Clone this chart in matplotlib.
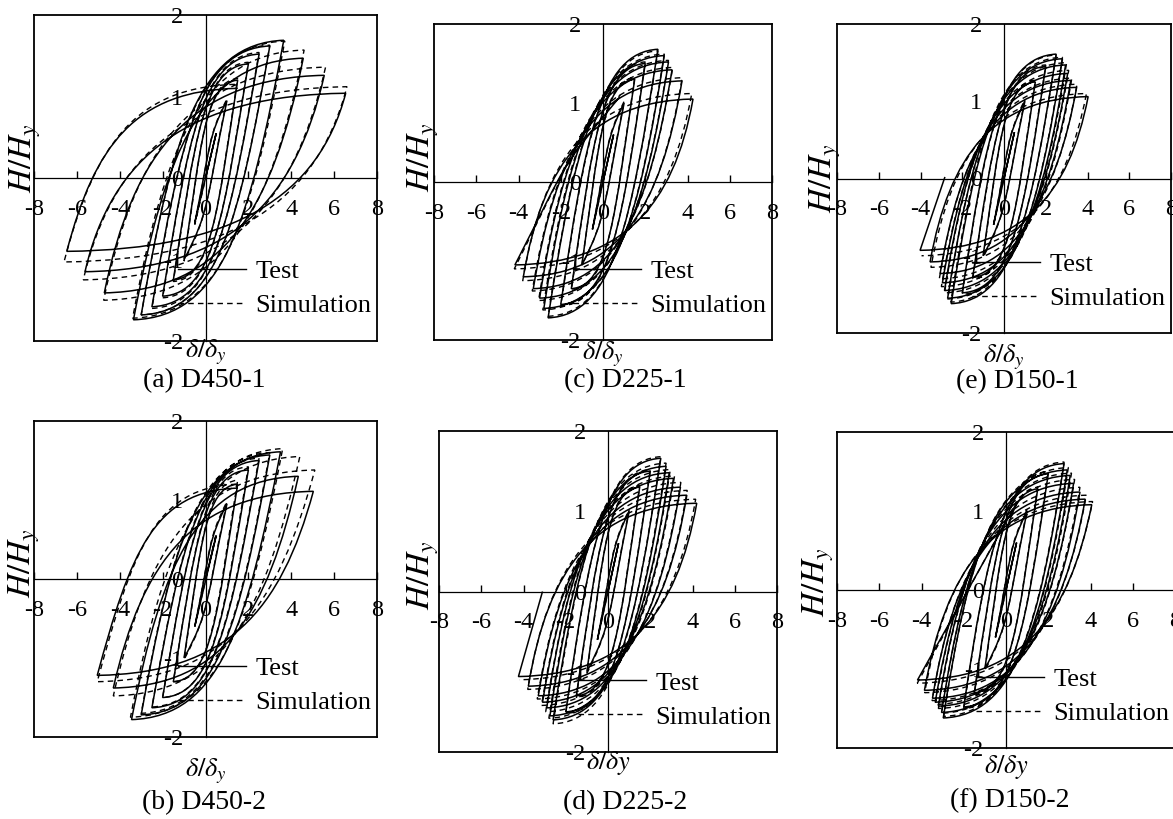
import matplotlib
matplotlib.use('Agg')
import matplotlib.pyplot as plt
from matplotlib.path import Path
from matplotlib.patches import PathPatch
from matplotlib.lines import Line2D

plt.rcParams['font.family'] = ['Liberation Serif', 'DejaVu Serif']
plt.rcParams['mathtext.fontset'] = 'stix'
plt.rcParams['axes.unicode_minus'] = False

# ---- data: peak points of each cycle (delta/delta_y, H/H_y)
# positive peaks, negative peaks, initial unloading slope of the cycle, last (partial) point

# (a) D450-1
a_test_pos = [(0.5, 0.55), (1.0, 0.95), (1.5, 1.2), (2.0, 1.4), (2.5, 1.52), (3.0, 1.62),
              (3.65, 1.69), (4.56, 1.47), (5.54, 1.26), (6.54, 1.04)]
a_test_neg = [(-0.5, -0.55), (-1.0, -1.0), (-1.5, -1.25), (-2.0, -1.45), (-2.5, -1.58), (-3.0, -1.68),
              (-3.36, -1.74), (-4.72, -1.41), (-5.62, -1.15), (-6.47, -0.9)]
a_sim_pos = [(0.5, 0.55), (1.0, 0.97), (1.5, 1.22), (2.0, 1.42), (2.5, 1.54), (3.0, 1.63),
             (3.7, 1.68), (4.6, 1.57), (5.6, 1.36), (6.6, 1.12)]
a_sim_neg = [(-0.5, -0.57), (-1.0, -1.02), (-1.5, -1.27), (-2.0, -1.47), (-2.5, -1.6), (-3.0, -1.68),
             (-3.4, -1.72), (-4.75, -1.5), (-5.7, -1.25), (-6.6, -1.03)]
a_k = [1.8, 1.8, 1.7, 1.6, 1.5, 1.5, 1.4, 1.3, 1.15, 1.0]
a_test_end = (1.5, 1.1)
a_sim_end = (1.5, 1.15)

# (b) D450-2
b_test_pos = [(0.5, 0.55), (1.0, 0.95), (1.5, 1.2), (2.0, 1.38), (2.5, 1.5), (3.0, 1.57),
              (3.5, 1.61), (4.33, 1.3), (5.03, 1.11)]
b_test_neg = [(-0.5, -0.6), (-1.0, -1.0), (-1.5, -1.3), (-2.0, -1.5), (-2.5, -1.63), (-3.0, -1.72),
              (-3.45, -1.78), (-4.3, -1.38), (-5.05, -1.22)]
b_sim_pos = [(0.5, 0.57), (1.0, 0.98), (1.5, 1.25), (2.0, 1.42), (2.5, 1.53), (3.0, 1.6),
             (3.6, 1.65), (4.4, 1.55), (5.1, 1.38)]
b_sim_neg = [(-0.5, -0.6), (-1.0, -1.02), (-1.5, -1.3), (-2.0, -1.5), (-2.5, -1.62), (-3.0, -1.7),
             (-3.5, -1.75), (-4.3, -1.48), (-5.05, -1.3)]
b_k = [1.8, 1.8, 1.7, 1.6, 1.5, 1.5, 1.4, 1.2, 1.0]
b_test_end = (1.5, 1.15)
b_sim_end = (1.5, 1.2)

# (c) D225-1
c_test_pos = [(0.5, 0.6), (1.0, 1.0), (1.5, 1.3), (2.0, 1.5), (2.6, 1.68), (2.9, 1.6),
              (3.1, 1.52), (3.27, 1.42), (3.74, 1.28), (4.26, 1.05)]
c_test_neg = [(-0.5, -0.6), (-1.0, -1.05), (-1.5, -1.35), (-2.0, -1.55), (-2.6, -1.72), (-2.8, -1.6),
              (-3.0, -1.47), (-3.3, -1.35), (-3.77, -1.2), (-4.17, -1.05)]
c_sim_pos = [(0.5, 0.6), (1.0, 1.02), (1.5, 1.32), (2.0, 1.52), (2.6, 1.66), (2.9, 1.62),
             (3.1, 1.54), (3.3, 1.45), (3.75, 1.32), (4.2, 1.12)]
c_sim_neg = [(-0.5, -0.6), (-1.0, -1.05), (-1.5, -1.37), (-2.0, -1.57), (-2.6, -1.7), (-2.85, -1.62),
             (-3.05, -1.5), (-3.35, -1.38), (-3.8, -1.25), (-4.2, -1.1)]
c_k = [1.9, 1.9, 1.8, 1.8, 1.7, 1.7, 1.7, 1.6, 1.6, 1.5]
c_test_end = (0.8, 1.08)
c_sim_end = (0.8, 1.1)

# (d) D225-2
d_test_pos = [(0.5, 0.6), (1.0, 1.0), (1.5, 1.3), (2.0, 1.5), (2.5, 1.66), (2.75, 1.56),
              (2.9, 1.48), (3.1, 1.41), (3.43, 1.3), (3.73, 1.2), (4.2, 1.1)]
d_test_neg = [(-0.5, -0.6), (-1.0, -1.0), (-1.5, -1.3), (-2.0, -1.5), (-2.6, -1.6), (-2.75, -1.55),
              (-2.9, -1.45), (-3.1, -1.38), (-3.3, -1.3), (-3.77, -1.18), (-4.24, -1.06)]
d_sim_pos = [(0.5, 0.6), (1.0, 1.02), (1.5, 1.32), (2.0, 1.52), (2.5, 1.68), (2.75, 1.6),
             (2.95, 1.52), (3.15, 1.44), (3.45, 1.36), (3.75, 1.26), (4.15, 1.15)]
d_sim_neg = [(-0.5, -0.6), (-1.0, -1.02), (-1.5, -1.32), (-2.0, -1.52), (-2.6, -1.65), (-2.8, -1.58),
             (-2.95, -1.5), (-3.15, -1.42), (-3.35, -1.34), (-3.8, -1.22), (-4.2, -1.1)]
d_k = [1.9, 1.9, 1.8, 1.8, 1.7, 1.7, 1.7, 1.6, 1.6, 1.6, 1.5]
d_test_end = (-3.1, 0.0)
d_sim_end = None

# (e) D150-1
e_test_pos = [(0.5, 0.6), (1.0, 1.0), (1.5, 1.25), (2.0, 1.45), (2.5, 1.61), (2.8, 1.55),
              (2.95, 1.47), (3.05, 1.36), (3.2, 1.27), (3.48, 1.18), (4.03, 1.06)]
e_test_neg = [(-0.5, -0.6), (-1.0, -1.0), (-1.5, -1.28), (-2.0, -1.48), (-2.53, -1.62), (-2.7, -1.55),
              (-2.85, -1.45), (-2.95, -1.35), (-3.06, -1.23), (-3.54, -1.08), (-4.02, -0.93)]
e_sim_pos = [(0.5, 0.6), (1.0, 1.02), (1.5, 1.27), (2.0, 1.47), (2.5, 1.6), (2.8, 1.57),
             (3.0, 1.5), (3.1, 1.4), (3.25, 1.3), (3.5, 1.22), (3.95, 1.1)]
e_sim_neg = [(-0.5, -0.6), (-1.0, -1.02), (-1.5, -1.3), (-2.0, -1.5), (-2.55, -1.6), (-2.7, -1.56),
             (-2.85, -1.48), (-3.0, -1.4), (-3.1, -1.3), (-3.5, -1.15), (-3.95, -1.0)]
e_k = [1.9, 1.9, 1.8, 1.8, 1.7, 1.7, 1.7, 1.6, 1.6, 1.5, 1.4]
e_test_end = (-2.83, 0.02)
e_sim_end = None

# (f) D150-2
f_test_pos = [(0.5, 0.6), (1.0, 1.0), (1.5, 1.28), (2.0, 1.47), (2.75, 1.6), (2.9, 1.52),
              (3.04, 1.45), (3.2, 1.35), (3.5, 1.24), (3.75, 1.15), (4.06, 1.08)]
f_test_neg = [(-0.5, -0.6), (-1.0, -1.0), (-1.5, -1.3), (-2.0, -1.48), (-2.97, -1.62), (-3.05, -1.55),
              (-3.2, -1.47), (-3.35, -1.42), (-3.48, -1.37), (-3.86, -1.27), (-4.19, -1.14)]
f_sim_pos = [(0.5, 0.6), (1.0, 1.02), (1.5, 1.3), (2.0, 1.5), (2.75, 1.62), (2.95, 1.55),
             (3.1, 1.48), (3.25, 1.4), (3.5, 1.3), (3.8, 1.2), (4.1, 1.12)]
f_sim_neg = [(-0.5, -0.6), (-1.0, -1.02), (-1.5, -1.32), (-2.0, -1.5), (-2.95, -1.6), (-3.05, -1.56),
             (-3.2, -1.5), (-3.35, -1.45), (-3.5, -1.4), (-3.85, -1.3), (-4.2, -1.18)]
f_k = [1.9, 1.9, 1.8, 1.8, 1.7, 1.7, 1.7, 1.6, 1.6, 1.5, 1.3]
f_test_end = (0.5, 1.1)
f_sim_end = (0.5, 1.12)

x_ticks = [-8, -6, -4, -2, 0, 2, 4, 6, 8]
x_tick_labels = ['-8', '-6', '-4', '-2', '0', '2', '4', '6', '8']
y_ticks = [-2, -1, 0, 1, 2]
y_tick_labels = ['-2', '-1', '0', '1', '2']

W, H = 1173, 819

# panel boxes in pixels (left, top, right, bottom), label positions
panels = [
    dict(box=(34, 15, 377, 341), cap='(a) D450-1', cap_xy=(204, 381),
         test=(a_test_pos, a_test_neg, a_test_end), sim=(a_sim_pos, a_sim_neg, a_sim_end), k=a_k,
         xl=r'$\delta/\delta_y$', xl_y=-0.034, yl_xy=(-0.026, 0.56)),
    dict(box=(434, 24, 772, 340), cap='(c) D225-1', cap_xy=(625, 381),
         test=(c_test_pos, c_test_neg, c_test_end), sim=(c_sim_pos, c_sim_neg, c_sim_end), k=c_k,
         xl=r'$\delta/\delta_y$', xl_y=-0.045, yl_xy=(-0.033, 0.58)),
    dict(box=(837, 24, 1171, 333), cap='(e) D150-1', cap_xy=(1017, 382),
         test=(e_test_pos, e_test_neg, e_test_end), sim=(e_sim_pos, e_sim_neg, e_sim_end), k=e_k,
         xl=r'$\delta/\delta_y$', xl_y=-0.078, yl_xy=(-0.036, 0.5)),
    dict(box=(34, 421, 377, 737), cap='(b) D450-2', cap_xy=(204, 803),
         test=(b_test_pos, b_test_neg, b_test_end), sim=(b_sim_pos, b_sim_neg, b_sim_end), k=b_k,
         xl=r'$\delta/\delta_y$', xl_y=-0.11, yl_xy=(-0.03, 0.55)),
    dict(box=(439, 431, 777, 752), cap='(d) D225-2', cap_xy=(625, 803),
         test=(d_test_pos, d_test_neg, d_test_end), sim=(d_sim_pos, d_sim_neg, d_sim_end), k=d_k,
         xl=r'$\delta/\delta y$', xl_y=-0.034, yl_xy=(-0.047, 0.55)),
    dict(box=(837, 432, 1175, 748), cap='(f) D150-2', cap_xy=(1010, 801),
         test=(f_test_pos, f_test_neg, f_test_end), sim=(f_sim_pos, f_sim_neg, f_sim_end), k=f_k,
         xl=r'$\delta/\delta y$', xl_y=-0.06, yl_xy=(-0.056, 0.525)),
]


def add_branch(verts, codes, p, t, ks, a=0.65, b=0.6, m=0.02):
    # one half cycle from peak p to peak t: steep start, flat arrival near the peak
    dx, dh = t[0] - p[0], t[1] - p[1]
    if abs(t[1]) < 0.1:
        verts.append(t)
        codes.append(Path.LINETO)
        return
    w = min(max((abs(t[0]) - 0.6) / 0.8, 0.0), 1.0)   # 0 = elastic, 1 = fully plastic
    c1 = (p[0] + a * ((1 - w) * dx + w * dh / ks), p[1] + a * dh)
    c2 = (t[0] - b * dx, t[1] - b * ((1 - w) * dh + w * m * dh))
    verts += [c1, c2, t]
    codes += [Path.CURVE4] * 3


def hysteresis(pos, neg, end, ks):
    verts = [(0.0, 0.0), pos[0]]
    codes = [Path.MOVETO, Path.LINETO]
    cur = pos[0]
    for i in range(len(neg)):
        add_branch(verts, codes, cur, neg[i], ks[i])
        cur = neg[i]
        if i + 1 < len(pos):
            add_branch(verts, codes, cur, pos[i + 1], ks[i])
            cur = pos[i + 1]
    if end is not None:
        add_branch(verts, codes, cur, end, ks[-1])
    return Path(verts, codes)


fig = plt.figure(figsize=(W / 100, H / 100), dpi=100)

for p in panels:
    l, t, r, b = p['box']
    ax = fig.add_axes([l / W, 1 - b / H, (r - l) / W, (b - t) / H])
    ax.set_xlim(-8, 8)
    ax.set_ylim(-2, 2)
    ax.set_xticks([])
    ax.set_yticks([])
    for s in ax.spines.values():
        s.set_linewidth(1.3)

    sx = ax.secondary_xaxis(0.5)
    sx.set_alignment('bottom')
    sx.set_xticks(x_ticks, x_tick_labels)
    sx.tick_params(direction='in', length=5, width=1, labelsize=17.5, pad=15)
    sx.spines['bottom'].set_linewidth(0.9)

    sy = ax.secondary_yaxis(0.5)
    sy.set_alignment('left')
    sy.set_yticks(y_ticks, y_tick_labels)
    sy.tick_params(length=0, labelsize=17.5, pad=16)
    sy.spines['left'].set_linewidth(0.9)

    pos, neg, end = p['test']
    ax.add_patch(PathPatch(hysteresis(pos, neg, end, p['k']), fill=False,
                           lw=1.1, ec='black', zorder=3))
    pos, neg, end = p['sim']
    ax.add_patch(PathPatch(hysteresis(pos, neg, end, p['k']), fill=False,
                           lw=1.0, ec='black', ls=(0, (4, 3)), zorder=3))

    handles = [Line2D([], [], color='black', lw=1.0),
               Line2D([], [], color='black', lw=1.0, ls=(0, (4, 3)))]
    ax.legend(handles, ['Test', 'Simulation'], loc='lower right', bbox_to_anchor=(1.015, 0.04),
              frameon=False, fontsize=19, handlelength=2.6, handletextpad=0.35,
              labelspacing=0.4, borderaxespad=0)

    ax.text(0.5, p['xl_y'], p['xl'], transform=ax.transAxes, ha='center', va='center', fontsize=19)
    ax.text(p['yl_xy'][0], p['yl_xy'][1], r'$H/H_y$', transform=ax.transAxes, rotation=90,
            ha='center', va='center', fontsize=24)
    fig.text(p['cap_xy'][0] / W, 1 - p['cap_xy'][1] / H, p['cap'], ha='center', va='center',
             fontsize=20)

fig.savefig('out.png', dpi=100)
